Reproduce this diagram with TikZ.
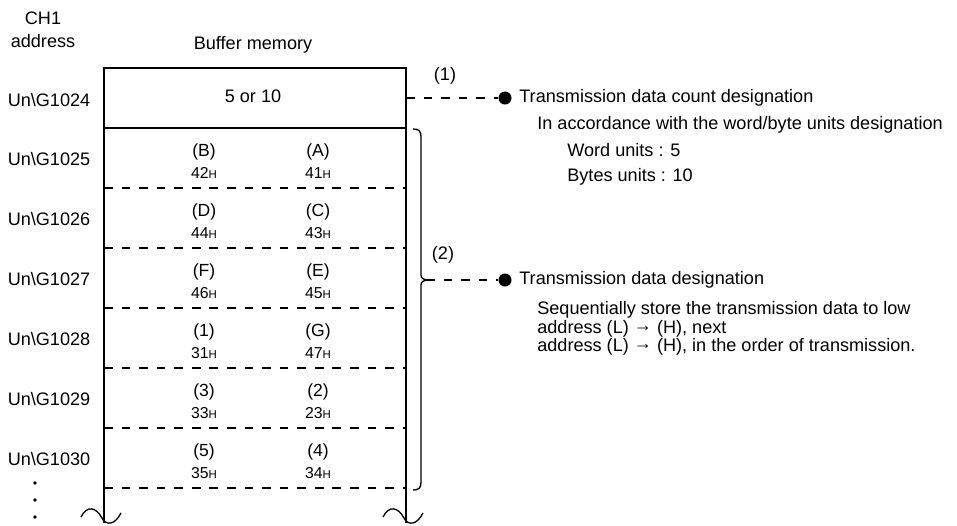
\documentclass[tikz,border=0pt]{standalone}
\usepackage{fontspec}
\setmainfont{Liberation Sans}
\usetikzlibrary{calc}

\newcommand{\hexH}[1]{#1{\fontsize{6.5}{7}\selectfont H}}
\newcommand{\toarr}{\raisebox{0.2ex}{→}}

\begin{document}
\begin{tikzpicture}[x=0.02cm, y=-0.02cm,
  lbl/.style={inner sep=0pt, font=\fontsize{10.3}{12}\selectfont},
  cell/.style={inner sep=0pt, font=\fontsize{10}{12}\selectfont},
  hexval/.style={inner sep=0pt, font=\fontsize{9}{11}\selectfont},
  sep/.style={line width=0.6pt, dash pattern=on 5pt off 5pt},
  dot/.style={circle, fill, inner sep=0pt, minimum size=7.4pt},
  frame/.style={line width=0.75pt}]
  \useasboundingbox (0,0) rectangle (957,525);

  % Headings
  \node[lbl] (ch) at (43,18) {CH1};
  \node[lbl] (addr) at (43,41) {address};
  \node[lbl] (bufmem) at (253,45) {Buffer memory};

  % Buffer memory frame
  \draw[frame] (104,523) -- (104,68) -- (406,68) -- (406,523);
  \draw[frame] (104,128) -- (406,128);
  \node[lbl] (addr1024) at (49,100) {Un\textbackslash G1024};
  \node[lbl] (count) at (253,96) {5 or 10};

  % Data rows
  \foreach \n/\i/\hb/\lb/\hh/\lh in {1025/0/B/A/42/41, 1026/1/D/C/44/43,
      1027/2/F/E/46/45, 1028/3/1/G/31/47, 1029/4/3/2/33/23, 1030/5/5/4/35/34} {
    \pgfmathsetmacro{\rowtop}{128+60*\i}
    \node[lbl] (addr\n) at (49,\rowtop+31) {Un\textbackslash G\n};
    \node[cell] (cellH\n) at (204,\rowtop+24) {(\hb)};
    \node[cell] (cellL\n) at (318,\rowtop+24) {(\lb)};
    \node[hexval] (hexH\n) at (204,\rowtop+45) {\hexH{\hh}};
    \node[hexval] (hexL\n) at (318,\rowtop+45) {\hexH{\lh}};
    \draw[sep] (104,\rowtop+60) -- (406,\rowtop+60);
  }

  % Continuation
  \foreach \y in {483,500,517} \fill (35,\y) circle (1.1pt);
  \foreach \x in {104,406}
    \draw[frame] (\x-23,517) .. controls (\x-17,505) and (\x-8,507) .. (\x-2,518)
      .. controls (\x+2,526) and (\x+11,525) .. (\x+17,513);

  % (1) count designation
  \coordinate (end1) at (406,98);
  \node[dot] (dot1) at (505,98) {};
  \draw[sep] (end1) -- (dot1);
  \node[lbl] (num1) at (445,76) {(1)};
  \node[lbl, anchor=west] (title1) at (519,98) {Transmission data count designation};
  \node[lbl, anchor=west] (desc1) at (537,125) {In accordance with the word/byte units designation};
  \node[lbl, anchor=west] (word) at (567,150) {Word units : 5};
  \node[lbl, anchor=west] (byte) at (567,177) {Bytes units : 10};

  % (2) data designation
  \draw[frame] (413,129) .. controls (419,129) and (421,131) .. (421,137)
    -- (421,272) .. controls (421,278) .. (426,280)
    .. controls (421,282) .. (421,288) -- (421,482)
    .. controls (421,488) and (419,490) .. (413,490);
  \coordinate (tip2) at (426,280);
  \node[dot] (dot2) at (505,280) {};
  \draw[sep] (tip2) -- (dot2);
  \node[lbl] (num2) at (443,255) {(2)};
  \node[lbl, anchor=west] (title2) at (519,280) {Transmission data designation};
  \node[lbl, anchor=north west, align=left, font=\fontsize{10.3}{10.6}\selectfont]
    (desc2) at (537,301) {Sequentially store the transmission data to low\\
    address (L) \toarr{} (H), next\\
    address (L) \toarr{} (H), in the order of transmission.};
\end{tikzpicture}
\end{document}
